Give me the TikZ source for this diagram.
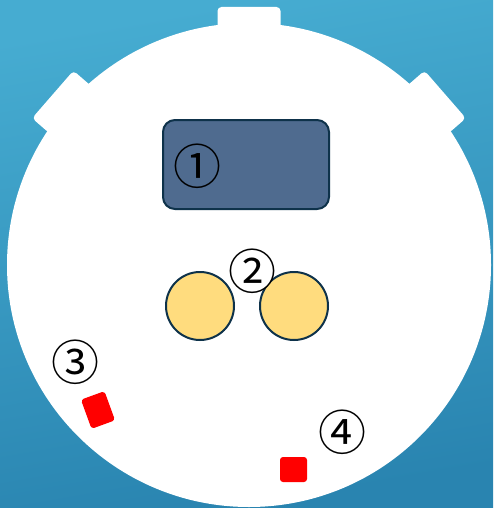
\documentclass[tikz,border=0pt]{standalone}
\usepackage{fontspec}
\newfontfamily\circfont{Noto Sans CJK JP}
\usetikzlibrary{calc, shapes.geometric, positioning}

\definecolor{skytop}{RGB}{70,172,209}
\definecolor{skybot}{RGB}{41,132,176}
\definecolor{panel}{RGB}{79,107,143}
\definecolor{edgeblue}{RGB}{14,50,74}
\definecolor{butter}{RGB}{255,220,126}

\tikzset{
    part/.style={draw=edgeblue, line width=2pt},
    tag/.style={font=\circfont\fontsize{48}{48}\selectfont, inner sep=0pt},
    redpad/.style={fill=red, rounded corners=3pt}
}

\begin{document}
\begin{tikzpicture}[x=1pt, y=-1pt]
    % 1. Nền chuyển màu
    \useasboundingbox (0,0) rectangle (493,508);
    \shade[top color=skytop, bottom color=skybot, shading angle=10] (0,0) rectangle (493,508);

    % 2. Thân đồng hồ bấm giờ: mặt tròn và ba nút
    \coordinate (c) at (249,265);
    \fill[white, rounded corners=4pt] (217.5,7) rectangle (280.5,40);
    \fill[white, rounded corners=4pt, rotate around={49:(c)}] (217.5,5) rectangle (280.5,40);
    \fill[white, rounded corners=4pt, rotate around={-49:(c)}] (217.5,5) rectangle (280.5,40);
    \fill[white] (c) circle (242);

    % 3. Màn hình và hai bánh răng
    \node[part, fill=panel, rounded corners=12pt, minimum width=166pt, minimum height=89pt] (screen) at (246,164.5) {};
    \node[part, fill=butter, circle, minimum size=68pt, inner sep=0pt] (gearL) at (200,306) {};
    \node[part, fill=butter, circle, minimum size=68pt, inner sep=0pt] (gearR) at (294,306) {};

    % 4. Hai miếng đỏ
    \fill[redpad, rotate around={20:(98,410)}] (85.5,394.5) rectangle (110.5,425.5);
    \fill[redpad] (280,457) rectangle (307,482);

    % 5. Các nhãn số
    \node[tag] (n1) at (197,166) {①};
    \fill[white] (252,271) circle (21);
    \node[tag] (n2) at (252,271) {②};
    \node[tag] (n3) at (75,362) {③};
    \node[tag] (n4) at (342,432) {④};
\end{tikzpicture}
\end{document}
